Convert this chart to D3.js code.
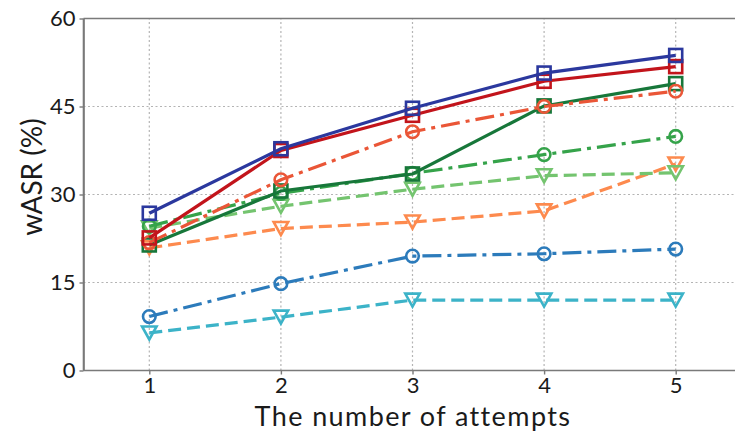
<!DOCTYPE html>
<html>
<head>
<meta charset="utf-8">
<script src="https://cdn.jsdelivr.net/npm/d3@7"></script>
<style>
  html, body { margin: 0; padding: 0; background: #fff; }
  svg text { font-family: Lato, "Open Sans", sans-serif; fill: #1a1a1a; }
</style>
</head>
<body>
<svg id="chart" width="735" height="437"></svg>
<script>
"use strict";

var attempts = [1, 2, 3, 4, 5];
var yTicks = [0, 15, 30, 45, 60];

var cyanTri      = [6.4, 9.1, 12.0, 12.0, 12.0];
var blueCircle   = [9.2, 14.8, 19.5, 19.9, 20.7];
var orangeTri    = [20.9, 24.2, 25.3, 27.2, 35.2];
var lightGreenTri = [24.3, 28.0, 30.9, 33.2, 33.7];
var greenCircle  = [24.6, 30.2, 33.6, 36.8, 39.9];
var darkGreenSq  = [21.4, 30.6, 33.5, 45.1, 48.9];
var tomatoCircle = [21.8, 32.5, 40.7, 45.0, 47.6];
var redSq        = [22.6, 37.5, 43.5, 49.3, 51.8];
var navySq       = [26.8, 37.8, 44.7, 50.7, 53.7];

var series = [
  { values: cyanTri,       color: "#3cb3c8", dash: "dashed",  marker: "tri" },
  { values: blueCircle,    color: "#2c7bbb", dash: "dashdot", marker: "circle" },
  { values: orangeTri,     color: "#fd8a4e", dash: "dashed",  marker: "tri" },
  { values: lightGreenTri, color: "#74c46f", dash: "dashed",  marker: "tri" },
  { values: greenCircle,   color: "#35a34a", dash: "dashdot", marker: "circle" },
  { values: darkGreenSq,   color: "#17773a", dash: "solid",   marker: "square" },
  { values: tomatoCircle,  color: "#ea5637", dash: "dashdot", marker: "circle" },
  { values: redSq,         color: "#c2141b", dash: "solid",   marker: "square" },
  { values: navySq,        color: "#2b389e", dash: "solid",   marker: "square" }
];

var dashes = { solid: null, dashed: "13,6", dashdot: "19,6,4,6" };

var svg = d3.select("#chart");
var margin = { top: 18.5, left: 83.5, bottom: 370.5 };

var x = d3.scaleLinear().domain([0.5, 5.5]).range([margin.left, margin.left + 5 * 131.6]);
var y = d3.scaleLinear().domain([0, 60]).range([margin.bottom, margin.top]);

// grid
var grid = svg.append("g").attr("stroke", "#b4b4b4").attr("stroke-width", 1.2)
  .attr("stroke-dasharray", "2,2.5");
grid.selectAll("line.gx").data(attempts).enter().append("line")
  .attr("x1", function(d) { return x(d); }).attr("x2", function(d) { return x(d); })
  .attr("y1", y(0)).attr("y2", y(60));
grid.selectAll("line.gy").data(yTicks.slice(1, -1)).enter().append("line")
  .attr("x1", x(0.5)).attr("x2", x(5.5))
  .attr("y1", function(d) { return y(d); }).attr("y2", function(d) { return y(d); });

// lines + markers
var line = d3.line()
  .x(function(d, i) { return x(attempts[i]); })
  .y(function(d) { return y(d); });

var triPath = function(s) {
  var h = s * 0.9;
  return "M" + (-s / 2) + "," + (-h / 2) + "L" + (s / 2) + "," + (-h / 2) + "L0," + (h / 2) + "Z";
};

series.forEach(function(s) {
  var g = svg.append("g");
  g.append("path")
    .datum(s.values)
    .attr("fill", "none")
    .attr("stroke", s.color)
    .attr("stroke-width", 3.2)
    .attr("stroke-dasharray", dashes[s.dash])
    .attr("d", line);

  var pts = g.selectAll(".m").data(s.values).enter().append("g")
    .attr("transform", function(d, i) { return "translate(" + x(attempts[i]) + "," + y(d) + ")"; });

  if (s.marker === "square") {
    pts.append("rect").attr("x", -6.5).attr("y", -6.5).attr("width", 13).attr("height", 13);
  } else if (s.marker === "circle") {
    pts.append("circle").attr("r", 6.3);
  } else {
    pts.append("path").attr("d", triPath(14.5));
  }
  pts.selectAll("*").attr("fill", "none").attr("stroke", s.color).attr("stroke-width", 2.6);
});

// spines
var axisColor = "#7a7a7a";
svg.append("line").attr("x1", margin.left).attr("x2", margin.left)
  .attr("y1", y(60)).attr("y2", y(0)).attr("stroke", axisColor).attr("stroke-width", 1.6);
svg.append("line").attr("x1", margin.left).attr("x2", 735)
  .attr("y1", y(60)).attr("y2", y(60)).attr("stroke", axisColor).attr("stroke-width", 1.6);

var xAxis = svg.append("g")
  .attr("transform", "translate(0," + margin.bottom + ")")
  .call(d3.axisBottom(x).tickValues(attempts).tickFormat(d3.format("d"))
    .tickSize(4).tickPadding(3).tickSizeOuter(0));
var yAxis = svg.append("g")
  .attr("transform", "translate(" + margin.left + ",0)")
  .call(d3.axisLeft(y).tickValues(yTicks).tickFormat(d3.format("d"))
    .tickSize(4).tickPadding(4).tickSizeOuter(0));

[xAxis, yAxis].forEach(function(a) {
  a.select(".domain").attr("stroke", axisColor).attr("stroke-width", 1.6);
  a.selectAll(".tick line").attr("stroke", axisColor).attr("stroke-width", 1.4);
  a.selectAll(".tick text").attr("font-size", 22).attr("font-family", "Lato, sans-serif").attr("fill", "#1a1a1a");
});
xAxis.select(".domain").attr("d", "M" + margin.left + ",0H735");

svg.append("text")
  .attr("x", 413).attr("y", 426)
  .attr("text-anchor", "middle")
  .attr("font-size", 27)
  .attr("letter-spacing", 1.4)
  .text("The number of attempts");

svg.append("text")
  .attr("transform", "translate(42,177) rotate(-90)")
  .attr("text-anchor", "middle")
  .attr("font-size", 28)
  .text("wASR (%)");
</script>
</body>
</html>
